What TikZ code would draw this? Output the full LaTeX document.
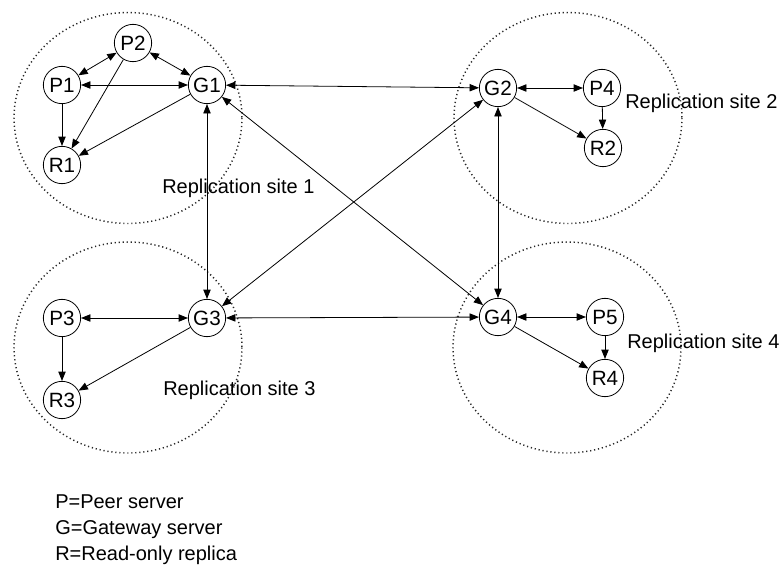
\documentclass[tikz,border=0pt]{standalone}
\usepackage{fontspec}
\setmainfont{Liberation Sans}
\usetikzlibrary{arrows.meta}

\begin{document}
\begin{tikzpicture}[x=0.75pt, y=-0.75pt,
    srv/.style={draw, circle, line width=0.6pt, minimum size=28pt, inner sep=0pt, font=\fontsize{15.5}{18}\selectfont},
    site/.style={draw, line width=1.1pt, dash pattern=on 0.9pt off 2.1pt, black!85},
    link/.style={line width=0.6pt, {Triangle[length=7pt,width=5.5pt]}-{Triangle[length=7pt,width=5.5pt]}},
    oneway/.style={line width=0.6pt, -{Triangle[length=7pt,width=5.5pt]}},
    lbl/.style={anchor=west, inner sep=0pt, font=\fontsize{15}{18}\selectfont}]
    \useasboundingbox (0,0) rectangle (783,568);
    \pgfmathsetmacro{\rx}{114}
    \pgfmathsetmacro{\ry}{105.5}
    % replication sites
    \draw[site] (128,118) ellipse ({\rx} and {\ry});
    \draw[site] (568,118) ellipse ({\rx} and {\ry});
    \draw[site] (128,347.5) ellipse ({\rx} and {\ry});
    \draw[site] (567,347.5) ellipse ({\rx} and {\ry});
    % site 1
    \node[srv] (P2) at (133,43) {P2};
    \node[srv] (P1) at (62,85) {P1};
    \node[srv] (G1) at (207,85) {G1};
    \node[srv] (R1) at (62,165) {R1};
    % site 2
    \node[srv] (G2) at (498,88) {G2};
    \node[srv] (P4) at (602,88) {P4};
    \node[srv] (R2) at (603,148) {R2};
    % site 3
    \node[srv] (P3) at (62,318) {P3};
    \node[srv] (G3) at (207,318) {G3};
    \node[srv] (R3) at (62,400) {R3};
    % site 4
    \node[srv] (G4) at (498,317) {G4};
    \node[srv] (P5) at (605,317) {P5};
    \node[srv] (R4) at (605,378) {R4};
    % site labels
    \node[lbl] (L1) at (162,188) {Replication site 1};
    \node[lbl] (L2) at (625,103) {Replication site 2};
    \node[lbl] (L3) at (163,390) {Replication site 3};
    \node[lbl] (L4) at (627,343) {Replication site 4};
    % inside the sites
    \draw[link] (P1) -- (P2);
    \draw[link] (P2) -- (G1);
    \draw[link] (P1) -- (G1);
    \draw[oneway] (P1) -- (R1);
    \draw[oneway] (P2) -- (R1);
    \draw[oneway] (G1) -- (R1);
    \draw[link] (G2) -- (P4);
    \draw[oneway] (P4) -- (R2);
    \draw[oneway] (G2) -- (R2);
    \draw[link] (P3) -- (G3);
    \draw[oneway] (P3) -- (R3);
    \draw[oneway] (G3) -- (R3);
    \draw[link] (G4) -- (P5);
    \draw[oneway] (P5) -- (R4);
    \draw[oneway] (G4) -- (R4);
    % between the gateways
    \draw[link] (G1) -- (G2);
    \draw[link] (G1) -- (G3);
    \draw[link] (G1) -- (G4);
    \draw[link] (G2) -- (G3);
    \draw[link] (G2) -- (G4);
    \draw[link] (G3) -- (G4);
    % legend
    \node[anchor=north west, inner sep=0pt, align=left, font=\fontsize{15}{19.5}\selectfont]
        (legend) at (55,494) {P=Peer server\\G=Gateway server\\R=Read-only replica};
\end{tikzpicture}
\end{document}
